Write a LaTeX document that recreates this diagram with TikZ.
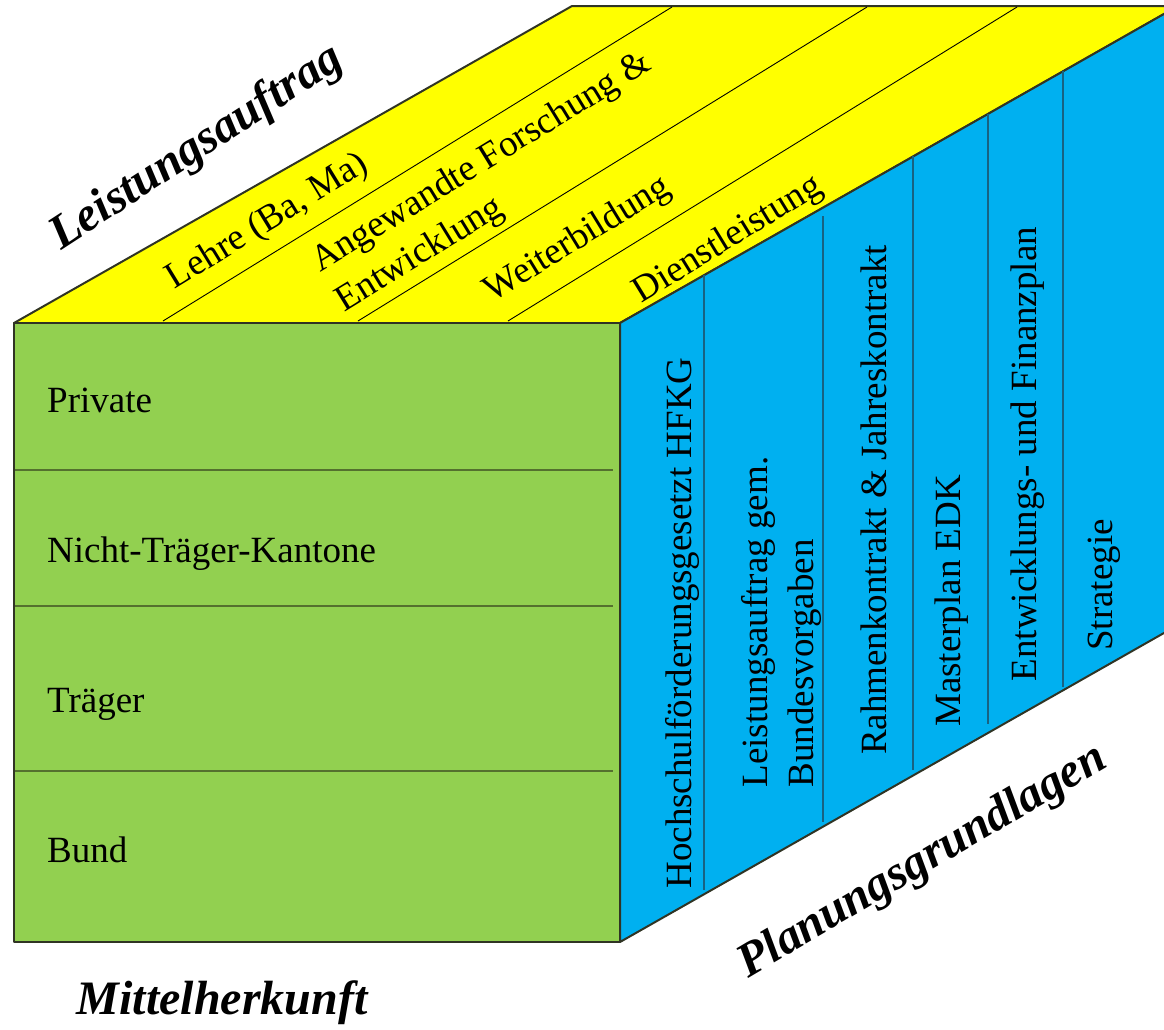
\documentclass[tikz,border=0pt]{standalone}
\usepackage{fontspec}
\setmainfont{Liberation Serif}
\usepackage{tikz}

\definecolor{topyellow}{RGB}{255,255,0}
\definecolor{frontgreen}{RGB}{146,208,80}
\definecolor{sideblue}{RGB}{0,176,240}
\definecolor{greenline}{RGB}{84,112,46}
\definecolor{blueline}{RGB}{24,98,130}
\definecolor{cubeedge}{RGB}{48,52,36}

\begin{document}
\begin{tikzpicture}
[x=1pt,y=-1pt,
 txt/.style={inner sep=0pt,font=\fontsize{37}{46}\selectfont},
 head/.style={inner sep=0pt,font=\fontsize{48}{56}\selectfont\bfseries\itshape},
 face/.style={draw=cubeedge,line width=2pt,line join=round},
 row/.style={draw=greenline,line width=1.6pt},
 col/.style={draw=blueline,line width=1.6pt},
 lane/.style={draw=black,line width=0.9pt}]
\clip (0,0) rectangle (1164,1029);
\coordinate (A) at (14,323);
\coordinate (B) at (620,323);
\coordinate (C) at (620,942);
\coordinate (D) at (14,942);
\coordinate (E) at (572,6);
\coordinate (F) at (1178,6);
\coordinate (G) at (1178,625);
\filldraw[face,fill=topyellow] (A) -- (E) -- (F) -- (B) -- cycle;
\filldraw[face,fill=sideblue] (B) -- (F) -- (G) -- (C) -- cycle;
\filldraw[face,fill=frontgreen] (A) -- (B) -- (C) -- (D) -- cycle;
\coordinate (l1) at (163,321);
\coordinate (u1) at (672,7);
\coordinate (l2) at (358,321);
\coordinate (u2) at (867,7);
\coordinate (l3) at (508,321);
\coordinate (u3) at (1017,7);
\path[lane] (l1) edge (u1) (l2) edge (u2) (l3) edge (u3);
\coordinate (r1a) at (15,470);
\coordinate (r1b) at (613,470);
\coordinate (r2a) at (15,606);
\coordinate (r2b) at (613,606);
\coordinate (r3a) at (15,771);
\coordinate (r3b) at (613,771);
\path[row] (r1a) edge (r1b) (r2a) edge (r2b) (r3a) edge (r3b);
\coordinate (c1t) at (704,275);
\coordinate (c1b) at (704,890);
\coordinate (c2t) at (823,216);
\coordinate (c2b) at (823,822);
\coordinate (c3t) at (913,156);
\coordinate (c3b) at (913,770);
\coordinate (c4t) at (988,114);
\coordinate (c4b) at (988,724);
\coordinate (c5t) at (1063,71);
\coordinate (c5b) at (1063,687);
\path[col] (c1t) edge (c1b) (c2t) edge (c2b) (c3t) edge (c3b)
(c4t) edge (c4b) (c5t) edge (c5b);
\node[txt,anchor=base west] (private) at (47,412) {Private};
\node[txt,anchor=base west] (nichttraeger) at (47,562) {Nicht-Träger-Kantone};
\node[txt,anchor=base west] (traeger) at (47,712) {Träger};
\node[txt,anchor=base west] (bund) at (47,862) {Bund};
\node[txt,rotate=31.5] (lehre) at (268,222) {Lehre (Ba, Ma)};
\node[txt,rotate=31.5,align=left] (forschung) at (494,183) {Angewandte Forschung \&\\Entwicklung};
\node[txt,rotate=31.5] (weiterbildung) at (578,240) {Weiterbildung};
\node[txt,rotate=31.5] (dienstleistung) at (728,240) {Dienstleistung};
\node[txt,rotate=90,anchor=base] (hfkg) at (691,623) {Hochschulförderungsgesetzt HFKG};
\node[txt,rotate=90,align=left] (bundesvorgaben) at (781,622) {Leistungsauftrag gem.\\Bundesvorgaben};
\node[txt,rotate=90,anchor=base] (kontrakt) at (886,500) {Rahmenkontrakt \& Jahreskontrakt};
\node[txt,rotate=90,anchor=base] (edk) at (960,601) {Masterplan EDK};
\node[txt,rotate=90,anchor=base] (finanzplan) at (1036,454) {Entwicklungs- und Finanzplan};
\node[txt,rotate=90,anchor=base] (strategie) at (1112,585) {Strategie};
\node[head,rotate=33] (leistungsauftrag) at (197,148) {Leistungsauftrag};
\node[head] (mittelherkunft) at (222,1003) {Mittelherkunft};
\node[head,rotate=30.5] (planung) at (923,862) {Planungsgrundlagen};
\end{tikzpicture}
\end{document}
